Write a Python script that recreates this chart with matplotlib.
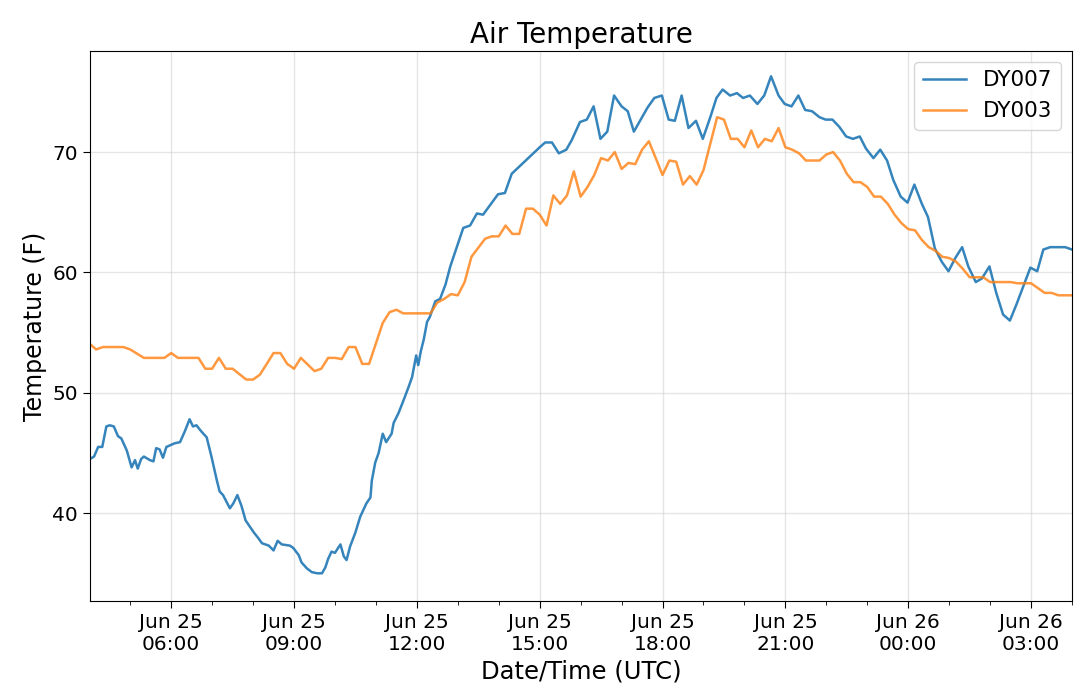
import numpy as np
import pandas as pd
import matplotlib
matplotlib.use("Agg")
import matplotlib.pyplot as plt
import matplotlib.dates as mdates

# DY007 air temperature (F)
dy007_times = [
    "06-25 04:01", "06-25 04:07", "06-25 04:13", "06-25 04:19", "06-25 04:25",
    "06-25 04:30", "06-25 04:36", "06-25 04:42", "06-25 04:47", "06-25 04:55",
    "06-25 05:02", "06-25 05:07", "06-25 05:11", "06-25 05:16", "06-25 05:20",
    "06-25 05:29", "06-25 05:34", "06-25 05:38", "06-25 05:43", "06-25 05:48",
    "06-25 05:53", "06-25 06:05", "06-25 06:13", "06-25 06:20", "06-25 06:27",
    "06-25 06:32", "06-25 06:37", "06-25 06:44", "06-25 06:52", "06-25 06:59",
    "06-25 07:07", "06-25 07:11", "06-25 07:16", "06-25 07:26", "06-25 07:31",
    "06-25 07:37", "06-25 07:43", "06-25 07:49", "06-25 08:01", "06-25 08:08",
    "06-25 08:13", "06-25 08:23", "06-25 08:30", "06-25 08:36", "06-25 08:42",
    "06-25 08:54", "06-25 08:59", "06-25 09:07", "06-25 09:11", "06-25 09:19",
    "06-25 09:26", "06-25 09:34", "06-25 09:41", "06-25 09:46", "06-25 09:50",
    "06-25 09:55", "06-25 10:00", "06-25 10:08", "06-25 10:13", "06-25 10:17",
    "06-25 10:22", "06-25 10:30", "06-25 10:37", "06-25 10:46", "06-25 10:52",
    "06-25 10:54", "06-25 10:59", "06-25 11:04", "06-25 11:10", "06-25 11:15",
    "06-25 11:23", "06-25 11:26", "06-25 11:33", "06-25 11:40", "06-25 11:48",
    "06-25 11:53", "06-25 11:59", "06-25 12:02", "06-25 12:06", "06-25 12:10",
    "06-25 12:15", "06-25 12:19", "06-25 12:27", "06-25 12:34", "06-25 12:42",
    "06-25 12:49", "06-25 13:08", "06-25 13:18", "06-25 13:28", "06-25 13:37",
    "06-25 13:50", "06-25 13:59", "06-25 14:09", "06-25 14:19", "06-25 15:00",
    "06-25 15:08", "06-25 15:18", "06-25 15:28", "06-25 15:39", "06-25 15:47",
    "06-25 15:59", "06-25 16:09", "06-25 16:19", "06-25 16:29", "06-25 16:39",
    "06-25 16:49", "06-25 17:00", "06-25 17:09", "06-25 17:18", "06-25 17:28",
    "06-25 17:38", "06-25 17:48", "06-25 17:59", "06-25 18:09", "06-25 18:18",
    "06-25 18:28", "06-25 18:38", "06-25 18:49", "06-25 18:59", "06-25 19:10",
    "06-25 19:19", "06-25 19:28", "06-25 19:39", "06-25 19:49", "06-25 19:58",
    "06-25 20:08", "06-25 20:19", "06-25 20:29", "06-25 20:39", "06-25 20:50",
    "06-25 20:59", "06-25 21:09", "06-25 21:19", "06-25 21:29", "06-25 21:39",
    "06-25 21:50", "06-25 21:59", "06-25 22:09", "06-25 22:19", "06-25 22:29",
    "06-25 22:39", "06-25 22:49", "06-25 22:58", "06-25 23:09", "06-25 23:19",
    "06-25 23:29", "06-25 23:38", "06-25 23:49", "06-25 23:59", "06-26 00:09",
    "06-26 00:20", "06-26 00:29", "06-26 00:39", "06-26 00:49", "06-26 00:59",
    "06-26 01:09", "06-26 01:19", "06-26 01:28", "06-26 01:39", "06-26 01:48",
    "06-26 01:59", "06-26 02:09", "06-26 02:19", "06-26 02:29", "06-26 02:39",
    "06-26 02:49", "06-26 02:59", "06-26 03:09", "06-26 03:18", "06-26 03:28",
    "06-26 03:50", "06-26 04:00",
]
dy007_temp = [
    44.5, 44.7, 45.5, 45.5, 47.2,
    47.3, 47.2, 46.4, 46.2, 45.2,
    43.8, 44.4, 43.7, 44.5, 44.7,
    44.4, 44.3, 45.4, 45.3, 44.6,
    45.5, 45.8, 45.9, 46.8, 47.8,
    47.2, 47.3, 46.8, 46.3, 44.7,
    42.7, 41.8, 41.5, 40.4, 40.8,
    41.5, 40.6, 39.4, 38.4, 37.9,
    37.5, 37.3, 36.9, 37.7, 37.4,
    37.3, 37.1, 36.5, 35.9, 35.4,
    35.1, 35.0, 35.0, 35.5, 36.2,
    36.8, 36.7, 37.4, 36.4, 36.1,
    37.2, 38.4, 39.7, 40.8, 41.3,
    42.7, 44.2, 45.0, 46.6, 45.9,
    46.6, 47.5, 48.3, 49.3, 50.5,
    51.3, 53.1, 52.3, 53.5, 54.4,
    55.9, 56.3, 57.6, 57.8, 59.0,
    60.5, 63.7, 63.9, 64.9, 64.8,
    65.8, 66.5, 66.6, 68.2, 70.4,
    70.8, 70.8, 69.9, 70.2, 71.0,
    72.5, 72.7, 73.8, 71.1, 71.7,
    74.7, 73.8, 73.4, 71.7, 72.7,
    73.7, 74.5, 74.7, 72.7, 72.6,
    74.7, 72.0, 72.6, 71.1, 72.9,
    74.5, 75.2, 74.7, 74.9, 74.5,
    74.7, 74.0, 74.7, 76.3, 74.7,
    74.0, 73.8, 74.7, 73.5, 73.4,
    72.9, 72.7, 72.7, 72.1, 71.3,
    71.1, 71.3, 70.3, 69.5, 70.2,
    69.3, 67.7, 66.3, 65.8, 67.3,
    65.7, 64.6, 62.0, 60.9, 60.1,
    61.2, 62.1, 60.5, 59.2, 59.5,
    60.5, 58.3, 56.5, 56.0, 57.4,
    58.9, 60.4, 60.1, 61.9, 62.1,
    62.1, 61.9,
]

# DY003 air temperature (F), 10 minute data
dy003_times = [
    "06-25 04:00", "06-25 04:10", "06-25 04:20", "06-25 04:50", "06-25 05:00",
    "06-25 05:20", "06-25 05:50", "06-25 06:00", "06-25 06:10", "06-25 06:40",
    "06-25 06:50", "06-25 07:00", "06-25 07:10", "06-25 07:20", "06-25 07:30",
    "06-25 07:50", "06-25 08:00", "06-25 08:10", "06-25 08:30", "06-25 08:40",
    "06-25 08:50", "06-25 09:00", "06-25 09:10", "06-25 09:30", "06-25 09:40",
    "06-25 09:50", "06-25 10:00", "06-25 10:10", "06-25 10:20", "06-25 10:30",
    "06-25 10:40", "06-25 10:50", "06-25 11:10", "06-25 11:20", "06-25 11:30",
    "06-25 11:40", "06-25 12:20", "06-25 12:30", "06-25 12:40", "06-25 12:50",
    "06-25 13:00", "06-25 13:10", "06-25 13:20", "06-25 13:40", "06-25 13:50",
    "06-25 14:00", "06-25 14:10", "06-25 14:20", "06-25 14:30", "06-25 14:40",
    "06-25 14:50", "06-25 15:00", "06-25 15:10", "06-25 15:20", "06-25 15:30",
    "06-25 15:40", "06-25 15:50", "06-25 16:00", "06-25 16:10", "06-25 16:20",
    "06-25 16:30", "06-25 16:40", "06-25 16:50", "06-25 17:00", "06-25 17:10",
    "06-25 17:20", "06-25 17:30", "06-25 17:40", "06-25 17:50", "06-25 18:00",
    "06-25 18:10", "06-25 18:20", "06-25 18:30", "06-25 18:40", "06-25 18:50",
    "06-25 19:00", "06-25 19:10", "06-25 19:20", "06-25 19:30", "06-25 19:40",
    "06-25 19:50", "06-25 20:00", "06-25 20:10", "06-25 20:20", "06-25 20:30",
    "06-25 20:40", "06-25 20:50", "06-25 21:00", "06-25 21:10", "06-25 21:20",
    "06-25 21:30", "06-25 21:50", "06-25 22:00", "06-25 22:10", "06-25 22:20",
    "06-25 22:30", "06-25 22:40", "06-25 22:50", "06-25 23:00", "06-25 23:10",
    "06-25 23:20", "06-25 23:30", "06-25 23:40", "06-25 23:50", "06-26 00:00",
    "06-26 00:10", "06-26 00:20", "06-26 00:30", "06-26 00:40", "06-26 00:50",
    "06-26 01:00", "06-26 01:10", "06-26 01:20", "06-26 01:30", "06-26 01:40",
    "06-26 01:50", "06-26 02:00", "06-26 02:30", "06-26 02:40", "06-26 03:00",
    "06-26 03:10", "06-26 03:20", "06-26 03:30", "06-26 03:40", "06-26 04:00",
]
dy003_temp = [
    54.1, 53.6, 53.8, 53.8, 53.6,
    52.9, 52.9, 53.3, 52.9, 52.9,
    52.0, 52.0, 52.9, 52.0, 52.0,
    51.1, 51.1, 51.5, 53.3, 53.3,
    52.4, 52.0, 52.9, 51.8, 52.0,
    52.9, 52.9, 52.8, 53.8, 53.8,
    52.4, 52.4, 55.8, 56.7, 56.9,
    56.6, 56.6, 57.5, 57.8, 58.2,
    58.1, 59.2, 61.3, 62.8, 63.0,
    63.0, 63.9, 63.2, 63.2, 65.3,
    65.3, 64.8, 63.9, 66.4, 65.7,
    66.4, 68.4, 66.3, 67.1, 68.1,
    69.5, 69.3, 70.0, 68.6, 69.1,
    69.0, 70.2, 70.9, 69.5, 68.1,
    69.3, 69.2, 67.3, 68.0, 67.3,
    68.5, 70.7, 72.9, 72.7, 71.1,
    71.1, 70.4, 71.8, 70.4, 71.1,
    70.9, 72.0, 70.4, 70.2, 69.9,
    69.3, 69.3, 69.8, 70.0, 69.3,
    68.2, 67.5, 67.5, 67.1, 66.3,
    66.3, 65.7, 64.8, 64.1, 63.6,
    63.5, 62.7, 62.1, 61.8, 61.3,
    61.2, 60.9, 60.3, 59.6, 59.6,
    59.6, 59.2, 59.2, 59.1, 59.1,
    58.7, 58.3, 58.3, 58.1, 58.1,
]

t7 = pd.to_datetime(["2019-" + s for s in dy007_times])
t3 = pd.to_datetime(["2019-" + s for s in dy003_times])

fig = plt.figure(figsize=(10.8, 6.95), dpi=100)
ax = fig.add_axes([0.0833, 0.1353, 0.9093, 0.7913])

ax.plot(t7, dy007_temp, color="#1f77b4", lw=1.8, alpha=0.9, label="DY007")
ax.plot(t3, dy003_temp, color="#ff7f0e", lw=1.8, alpha=0.8, label="DY003")

ax.set_xlim(pd.Timestamp("2019-06-25 04:01"), pd.Timestamp("2019-06-26 04:00"))
ax.set_ylim(32.7, 78.4)
ax.set_yticks([40, 50, 60, 70])

ax.xaxis.set_major_locator(mdates.HourLocator(byhour=[0, 3, 6, 9, 12, 15, 18, 21]))
ax.xaxis.set_minor_locator(mdates.HourLocator())
ax.xaxis.set_major_formatter(mdates.DateFormatter("%b %d\n%H:%M"))

ax.grid(True, which="major", color="#cccccc", alpha=0.5, lw=1)
ax.tick_params(labelsize=14.5)
ax.tick_params(which="major", length=5)
ax.tick_params(which="minor", length=3)

ax.set_title("Air Temperature", fontsize=20)
ax.set_xlabel("Date/Time (UTC)", fontsize=17.5)
ax.set_ylabel("Temperature (F)", fontsize=17)
ax.legend(loc="upper right", fontsize=15.5)

fig.savefig("out.png", dpi=100)
